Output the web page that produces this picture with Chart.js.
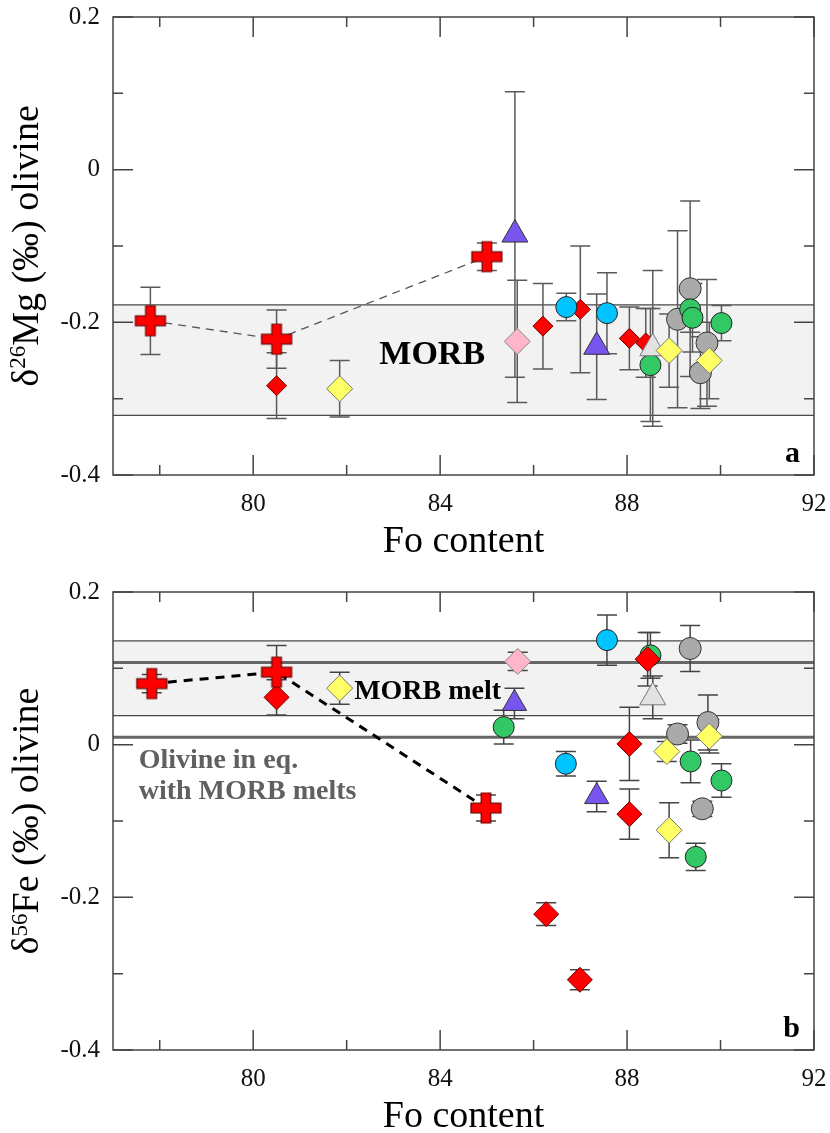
<!DOCTYPE html>
<html>
<head>
<meta charset="utf-8">
<script src="https://cdn.jsdelivr.net/npm/chart.js@4.4.1/dist/chart.umd.min.js"></script>
<style>
  html, body { margin: 0; padding: 0; background: #fff; }
  canvas { position: absolute; left: 0; }
  #mg-chart { top: 0; }
  #fe-chart { top: 575px; }
</style>
</head>
<body>
<canvas id="mg-chart" width="830" height="575"></canvas>
<canvas id="fe-chart" width="830" height="558"></canvas>
<script>
// rows are [Fo content, delta value, error]
const mgCross = [[77.8, -0.198, 0.044], [80.5, -0.222, 0.038], [85.0, -0.114, 0.018]]
const mgRedDiamond = [[80.5, -0.283, 0.043], [86.2, -0.205, 0.056], [87.0, -0.183, 0.083], [88.05, -0.221, 0.041], [88.4, -0.227, 0.045]]
const mgYellow = [[81.85, -0.287, 0.037], [88.9, -0.237, 0.048], [89.76, -0.25, 0.05]]
const mgPink = [[85.65, -0.225, 0.08]]
const mgPurple = [[85.6, -0.085, 0.187], [87.35, -0.232, 0.069]]
const mgCyan = [[86.7, -0.18, 0.018], [87.57, -0.188, 0.053]]
const mgLightTri = [[88.55, -0.234, 0.102]]
const mgGreen = [[88.5, -0.256, 0.074], [89.35, -0.183, 0.03], [89.4, -0.194, 0.045], [90.02, -0.201, 0.023]]
const mgGray = [[89.08, -0.196, 0.116], [89.35, -0.156, 0.115], [89.71, -0.227, 0.083], [89.57, -0.266, 0.047]]

const feCross = [[77.83, 0.080, 0.012], [80.5, 0.095, 0.035], [84.98, -0.083, 0.017]]
const feRedDiamond = [[80.5, 0.062, 0.023], [86.27, -0.222, 0.015], [86.99, -0.308, 0.013], [88.05, 0.001, 0.048], [88.05, -0.091, 0.033], [88.44, 0.112, 0.035]]
const feYellow = [[81.85, 0.074, 0.021], [88.85, -0.009, 0.013], [88.9, -0.112, 0.036], [89.76, 0.011, 0.022]]
const fePink = [[85.66, 0.109, 0.012]]
const fePurple = [[85.59, 0.054, 0.02], [87.35, -0.068, 0.02]]
const feCyan = [[87.57, 0.137, 0.033], [86.69, -0.025, 0.016]]
const feLightTri = [[88.55, 0.062, 0.028]]
const feGreen = [[85.36, 0.023, 0.022], [88.5, 0.117, 0.03], [89.36, -0.022, 0.028], [90.02, -0.047, 0.022], [89.47, -0.147, 0.018]]
const feGray = [[89.35, 0.126, 0.03], [89.08, 0.014, 0.012], [89.73, 0.029, 0.036], [89.61, -0.084, 0.01]]

const mgMorbBand = [-0.322, -0.177]
const feMeltBand = [0.038, 0.136]
const feOlivineLines = [0.0096, 0.1075]

const foTicks = [78, 80, 82, 84, 86, 88, 90, 92]
const foLabels = [80, 84, 88, 92]
const deltaTicks = [-0.4, -0.3, -0.2, -0.1, 0, 0.1, 0.2]
const deltaLabels = [-0.4, -0.2, 0, 0.2]

const serif = '"Liberation Serif", "Times New Roman", serif'
Chart.defaults.font.family = serif

// filled plus sign used for the red cross samples
const crossMarker = (() => {
  const c = document.createElement('canvas')
  c.width = 34; c.height = 34
  const ctx = c.getContext('2d')
  const m = 17, a = 15, t = 4.8
  const pts = [[-t, -a], [t, -a], [t, -t], [a, -t], [a, t], [t, t], [t, a], [-t, a], [-t, t], [-a, t], [-a, -t], [-t, -t]]
  ctx.beginPath()
  pts.forEach(([x, y], i) => i ? ctx.lineTo(m + x, m + y) : ctx.moveTo(m + x, m + y))
  ctx.closePath()
  ctx.fillStyle = '#ff0000'
  ctx.fill()
  ctx.strokeStyle = '#6a0000'
  ctx.lineWidth = 1.2
  ctx.stroke()
  return c
})()

const group = (rows, style, order) => ({
  data: rows.map(([x, y, e]) => ({ x, y, e })),
  errorBars: true,
  order,
  pointStyle: style.shape,
  pointRadius: style.r,
  pointHoverRadius: style.r,
  pointBackgroundColor: style.fill,
  pointBorderColor: style.edge,
  pointBorderWidth: 1,
  clip: false
})

const linkLine = (rows, color, width, dash) => ({
  data: rows.map(([x, y]) => ({ x, y })),
  showLine: true,
  pointRadius: 0,
  borderColor: color,
  borderWidth: width,
  borderDash: dash,
  order: 20
})

const drawTitleY = (ctx, parts, cx, cy) => {
  ctx.save()
  let total = 0
  parts.forEach(p => { ctx.font = `${p.size}px ${serif}`; p.w = ctx.measureText(p.text).width; total += p.w })
  ctx.translate(cx, cy)
  ctx.rotate(-Math.PI / 2)
  ctx.fillStyle = '#000'
  ctx.textBaseline = 'alphabetic'
  let x = -total / 2
  parts.forEach(p => {
    ctx.font = `${p.size}px ${serif}`
    ctx.fillText(p.text, x, p.rise)
    x += p.w
  })
  ctx.restore()
}

const panelPlugin = (cfg) => ({
  id: 'panel',
  beforeDatasetsDraw(chart) {
    const { ctx, chartArea: a, scales: { x, y } } = chart
    ctx.save()
    cfg.bands.forEach(([lo, hi]) => {
      const top = y.getPixelForValue(hi), bot = y.getPixelForValue(lo)
      ctx.fillStyle = '#f2f2f2'
      ctx.fillRect(a.left, top, a.right - a.left, bot - top)
      ctx.lineWidth = 1.3
      ctx.strokeStyle = '#4a4a4a'
      ctx.beginPath()
      ctx.moveTo(a.left, top); ctx.lineTo(a.right, top)
      ctx.moveTo(a.left, bot); ctx.lineTo(a.right, bot)
      ctx.stroke()
    })
    cfg.thickLines.forEach(v => {
      const py = y.getPixelForValue(v)
      ctx.strokeStyle = '#666'
      ctx.lineWidth = 3
      ctx.beginPath()
      ctx.moveTo(a.left, py); ctx.lineTo(a.right, py)
      ctx.stroke()
    })
    // error bars sit under every marker
    ctx.strokeStyle = cfg.errColor
    ctx.lineWidth = 1.5
    chart.data.datasets.forEach((ds, i) => {
      if (!ds.errorBars) return
      chart.getDatasetMeta(i).data.forEach((pt, j) => {
        const d = ds.data[j]
        const top = y.getPixelForValue(d.y + d.e), bot = y.getPixelForValue(d.y - d.e)
        ctx.beginPath()
        ctx.moveTo(pt.x, top); ctx.lineTo(pt.x, bot)
        ctx.moveTo(pt.x - 10, top); ctx.lineTo(pt.x + 10, top)
        ctx.moveTo(pt.x - 10, bot); ctx.lineTo(pt.x + 10, bot)
        ctx.stroke()
      })
    })
    ctx.restore()
  },
  afterDraw(chart) {
    const { ctx, chartArea: a, scales: { x, y } } = chart
    ctx.save()
    // frame with inward ticks on all four sides
    ctx.strokeStyle = '#444'
    ctx.lineWidth = 1.5
    ctx.strokeRect(a.left, a.top, a.right - a.left, a.bottom - a.top)
    ctx.beginPath()
    foTicks.forEach(v => {
      const px = x.getPixelForValue(v), len = foLabels.includes(v) ? 20 : 10
      ctx.moveTo(px, a.bottom); ctx.lineTo(px, a.bottom - len)
      ctx.moveTo(px, a.top); ctx.lineTo(px, a.top + len)
    })
    deltaTicks.forEach(v => {
      const py = y.getPixelForValue(v), len = deltaLabels.includes(v) ? 20 : 10
      ctx.moveTo(a.left, py); ctx.lineTo(a.left + len, py)
      ctx.moveTo(a.right, py); ctx.lineTo(a.right - len, py)
    })
    ctx.stroke()

    // axis titles
    ctx.fillStyle = '#000'
    ctx.font = `38px ${serif}`
    ctx.textAlign = 'center'
    ctx.fillText('Fo content', (a.left + a.right) / 2, a.bottom + 77)
    ctx.textAlign = 'left'
    drawTitleY(ctx, cfg.titleY, 38, (a.top + a.bottom) / 2)

    // panel letter
    ctx.font = `bold 30px ${serif}`
    ctx.textAlign = 'right'
    ctx.fillText(cfg.letter, a.right - 14, a.bottom - 13)

    // annotations
    cfg.notes.forEach(n => {
      ctx.font = `bold ${n.size}px ${serif}`
      ctx.fillStyle = n.color
      ctx.textAlign = n.align
      ctx.fillText(n.text, x.getPixelForValue(n.fo), y.getPixelForValue(n.val))
    })
    ctx.restore()
  }
})

const scaleOptions = (xHeight) => ({
  x: {
    type: 'linear', min: 77, max: 92,
    grid: { display: false, drawTicks: false },
    border: { display: false },
    afterBuildTicks: s => { s.ticks = foTicks.map(v => ({ value: v })) },
    afterFit: s => { s.height = xHeight; s.paddingLeft = 0; s.paddingRight = 0 },
    ticks: {
      autoSkip: false, maxRotation: 0, padding: 14, color: '#111',
      font: { size: 25 },
      callback: v => foLabels.includes(v) ? String(v) : ''
    }
  },
  y: {
    type: 'linear', min: -0.4, max: 0.2,
    grid: { display: false, drawTicks: false },
    border: { display: false },
    afterBuildTicks: s => { s.ticks = deltaTicks.map(v => ({ value: v })) },
    afterFit: s => { s.width = 113; s.paddingTop = 0; s.paddingBottom = 0 },
    ticks: {
      autoSkip: false, padding: 13, color: '#111',
      font: { size: 25 },
      callback: v => deltaLabels.includes(v) ? (v === 0 ? '0' : v.toFixed(1)) : ''
    }
  }
})

const baseOptions = (xHeight) => ({
  responsive: false,
  animation: false,
  layout: { padding: { top: 17, right: 14, left: 0, bottom: 0 } },
  plugins: { legend: { display: false }, tooltip: { enabled: false } },
  scales: scaleOptions(xHeight)
})

const shapes = {
  cross: { shape: crossMarker, r: 15, fill: '#ff0000', edge: '#6a0000' },
  yellow: { shape: 'rectRot', r: 13, fill: '#ffff66', edge: '#777' },
  lightTri: { shape: 'triangle', r: 15, fill: '#e2e2e2', edge: '#777' },
  cyan: { shape: 'circle', r: 10.5, fill: '#00c4ff', edge: '#222' },
  purple: { shape: 'triangle', r: 15, fill: '#7755ee', edge: '#333' },
  pink: { shape: 'rectRot', r: 13, fill: '#ffb6c8', edge: '#888' },
  green: { shape: 'circle', r: 10.5, fill: '#33c866', edge: '#222' },
  gray: { shape: 'circle', r: 11, fill: '#aaaaaa', edge: '#333' }
}

new Chart(document.getElementById('mg-chart').getContext('2d'), {
  type: 'scatter',
  data: {
    datasets: [
      linkLine(mgCross, '#555', 1.3, [8, 6]),
      group(mgCross, shapes.cross, 1),
      group(mgYellow, shapes.yellow, 2),
      group(mgLightTri, shapes.lightTri, 3),
      group(mgCyan, shapes.cyan, 4),
      group(mgRedDiamond, { shape: 'rectRot', r: 10, fill: '#ff0000', edge: '#700000' }, 5),
      group(mgPurple, shapes.purple, 6),
      group(mgPink, shapes.pink, 7),
      group(mgGreen, shapes.green, 8),
      group(mgGray, shapes.gray, 9)
    ]
  },
  options: baseOptions(100),
  plugins: [panelPlugin({
    bands: [mgMorbBand],
    thickLines: [],
    errColor: '#5a5a5a',
    letter: 'a',
    titleY: [{ text: 'δ', size: 38, rise: 0 }, { text: '26', size: 23, rise: -13 }, { text: 'Mg (‰) olivine', size: 38, rise: 0 }],
    notes: [{ text: 'MORB', size: 34, fo: 83.83, val: -0.254, align: 'center', color: '#000' }]
  })]
})

new Chart(document.getElementById('fe-chart').getContext('2d'), {
  type: 'scatter',
  data: {
    datasets: [
      linkLine(feCross, '#000', 3, [9, 7]),
      group(feCross, shapes.cross, 1),
      group(feYellow, shapes.yellow, 2),
      group(feLightTri, shapes.lightTri, 3),
      group(feCyan, shapes.cyan, 4),
      group(feRedDiamond, { shape: 'rectRot', r: 12.5, fill: '#ff0000', edge: '#700000' }, 5),
      group(fePurple, { ...shapes.purple, r: 14 }, 6),
      group(fePink, shapes.pink, 7),
      group(feGreen, shapes.green, 8),
      group(feGray, shapes.gray, 9)
    ]
  },
  options: baseOptions(83),
  plugins: [panelPlugin({
    bands: [feMeltBand],
    thickLines: feOlivineLines,
    errColor: '#444',
    letter: 'b',
    titleY: [{ text: 'δ', size: 38, rise: 0 }, { text: '56', size: 23, rise: -11 }, { text: 'Fe (‰) olivine', size: 38, rise: 0 }],
    notes: [
      { text: 'MORB melt', size: 28, fo: 82.16, val: 0.060, align: 'left', color: '#000' },
      { text: 'Olivine in eq.', size: 28, fo: 77.55, val: -0.030, align: 'left', color: '#606060' },
      { text: 'with MORB melts', size: 28, fo: 77.55, val: -0.071, align: 'left', color: '#606060' }
    ]
  })]
})
</script>
</body>
</html>
